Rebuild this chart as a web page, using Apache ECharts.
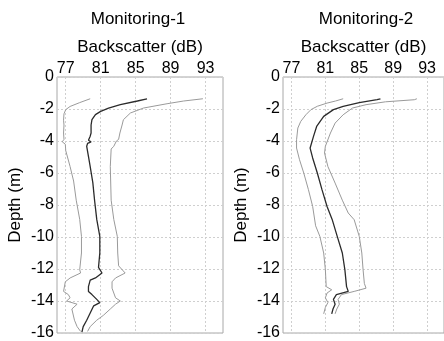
<!DOCTYPE html>
<html>
<head>
<meta charset="utf-8">
<script src="https://cdn.jsdelivr.net/npm/echarts@6/dist/echarts.min.js"></script>
<style>
  html, body { margin: 0; padding: 0; background: #fff; }
  #chart { width: 444px; height: 341px; }
</style>
</head>
<body>
<div id="chart"></div>
<script>
// tick labels
const xTicks = [77, 81, 85, 89, 93];
const panelTitles = ["Monitoring-1", "Monitoring-2"];

// Monitoring-1 : lower envelope, mean, upper envelope (depth m / backscatter dB)
const m1LowDepth = [-1.36, -1.6, -1.84, -2.04, -2.3, -2.7, -3.0, -3.5, -3.9, -4.05, -4.2, -4.6, -5.0, -5.6, -6.5, -7.7, -8.9, -9.96, -11.0, -12.04, -12.25, -12.56, -12.8, -13.4, -13.6, -13.8, -14.0, -14.2, -14.5, -15.2, -15.6, -15.9];
const m1LowDb = [79.8, 78.6, 77.5, 77.0, 76.8, 76.75, 76.8, 76.75, 76.8, 76.6, 76.95, 77.0, 77.2, 77.5, 77.9, 78.2, 78.6, 78.8, 78.8, 78.6, 78.7, 77.5, 76.95, 76.75, 77.3, 77.5, 77.1, 78.3, 77.7, 78.0, 78.3, 78.7];

const m1MeanDepth = [-1.36, -1.5, -1.73, -1.95, -2.15, -2.35, -2.67, -3.0, -3.5, -3.7, -3.95, -4.05, -4.15, -4.33, -4.96, -5.6, -6.6, -7.7, -8.9, -9.96, -11.0, -11.9, -12.25, -12.56, -12.7, -13.1, -13.4, -13.6, -13.9, -14.1, -14.3, -14.75, -15.2, -15.6, -15.95];
const m1MeanDb = [86.3, 85.2, 83.25, 81.9, 81.0, 80.4, 80.0, 79.9, 79.9, 79.8, 79.6, 79.9, 79.5, 79.4, 79.6, 79.8, 80.1, 80.3, 80.55, 80.9, 80.9, 80.75, 81.15, 80.4, 79.8, 79.6, 79.6, 80.0, 80.55, 80.9, 80.2, 79.8, 79.4, 79.0, 78.85];

const m1HighDepth = [-1.36, -1.5, -1.67, -1.94, -2.25, -2.67, -3.0, -3.5, -3.9, -4.0, -4.33, -4.5, -5.6, -7.7, -8.9, -9.96, -11.0, -11.8, -12.25, -12.56, -12.8, -13.2, -13.8, -14.0, -14.2, -14.5, -14.9, -15.2, -15.6, -15.9];
const m1HighDb = [92.7, 90.5, 88.6, 85.9, 84.4, 83.6, 83.45, 83.2, 83.05, 82.8, 82.5, 82.2, 82.1, 82.2, 82.5, 82.9, 82.95, 83.05, 83.8, 82.7, 82.3, 82.3, 82.7, 83.25, 82.7, 82.1, 81.3, 80.55, 79.8, 79.5];

// Monitoring-2
const m2LowDepth = [-1.36, -1.5, -1.63, -1.83, -2.04, -2.36, -2.77, -3.19, -3.92, -4.44, -5.17, -6.0, -7.04, -8.09, -9.3, -9.96, -11.0, -12.04, -13.1, -13.3, -13.5, -13.8, -14.1, -14.4, -14.8];
const m2LowDb = [83.1, 82.2, 81.2, 80.05, 79.3, 78.7, 78.1, 77.75, 77.6, 77.6, 77.95, 78.45, 79.0, 79.5, 79.85, 80.35, 80.8, 81.0, 81.1, 81.75, 81.2, 81.0, 81.3, 81.0, 80.8];

const m2MeanDepth = [-1.36, -1.42, -1.6, -1.83, -2.04, -2.46, -3.09, -3.71, -4.44, -5.06, -6.0, -7.04, -8.09, -8.9, -9.96, -11.0, -12.04, -13.1, -13.4, -13.6, -13.9, -14.2, -14.5, -14.8];
const m2MeanDb = [87.5, 87.1, 85.0, 83.1, 81.95, 80.8, 79.97, 79.6, 79.2, 79.5, 80.05, 80.6, 81.2, 81.8, 82.4, 83.0, 83.3, 83.5, 83.7, 82.3, 81.95, 82.15, 81.9, 81.75];

const m2HighDepth = [-1.36, -1.42, -1.55, -1.73, -1.94, -2.36, -2.88, -3.5, -4.33, -4.75, -5.6, -6.63, -7.7, -8.5, -8.92, -9.96, -11.0, -12.04, -12.9, -13.2, -13.4, -13.6, -13.9, -14.2, -14.5, -14.8];
const m2HighDb = [91.8, 91.5, 88.1, 85.8, 84.2, 83.1, 82.15, 81.6, 81.0, 80.9, 81.3, 82.15, 83.0, 83.7, 84.4, 85.0, 85.3, 85.45, 85.6, 85.8, 84.4, 82.9, 82.5, 82.65, 82.35, 82.15];

const FONT = "Liberation Sans, Arial, sans-serif";
const GRID_LINE = { color: "#cfcfcf", type: [2, 2], width: 1 };

function pairs(db, depth) {
  return db.map((v, i) => [v, depth[i]]);
}

function line(gi, db, depth, dark) {
  return {
    type: "line",
    xAxisIndex: gi,
    yAxisIndex: gi,
    data: pairs(db, depth),
    symbol: "none",
    silent: true,
    lineStyle: dark ? { color: "#2b2b2b", width: 1.3 } : { color: "#9a9a9a", width: 1 }
  };
}

function xAxis(gi) {
  return {
    type: "value",
    gridIndex: gi,
    position: "top",
    min: 76,
    max: 95,
    name: "Backscatter (dB)",
    nameLocation: "middle",
    nameGap: 18,
    nameTextStyle: { fontFamily: FONT, fontSize: 17, color: "#000" },
    axisLine: { show: false },
    axisTick: { show: false, customValues: xTicks },
    axisLabel: { customValues: xTicks, fontFamily: FONT, fontSize: 16, color: "#000", margin: 0 },
    splitLine: { show: true, lineStyle: GRID_LINE }
  };
}

function yAxis(gi) {
  return {
    type: "value",
    gridIndex: gi,
    min: -16,
    max: 0,
    interval: 2,
    name: "Depth (m)",
    nameLocation: "middle",
    nameGap: 33,
    nameTextStyle: { fontFamily: FONT, fontSize: 17, color: "#000" },
    axisLine: { show: false },
    axisTick: { show: false },
    axisLabel: { fontFamily: FONT, fontSize: 16, color: "#000", margin: 3 },
    splitLine: { show: true, lineStyle: GRID_LINE }
  };
}

const titleStyle = { fontFamily: FONT, fontSize: 17, fontWeight: "normal", color: "#000" };

const chart = echarts.init(document.getElementById("chart"), null, { renderer: "canvas" });
chart.setOption({
  animation: false,
  backgroundColor: "#fff",
  title: [
    { text: panelTitles[0], left: 138, top: 11, padding: 0, textAlign: "center", textStyle: titleStyle },
    { text: panelTitles[1], left: 366, top: 11, padding: 0, textAlign: "center", textStyle: titleStyle }
  ],
  grid: [
    { left: 57, top: 77, width: 166, height: 256, show: true, borderColor: "#a8a8a8", borderWidth: 1 },
    { left: 283, top: 77, width: 166, height: 256, show: true, borderColor: "#a8a8a8", borderWidth: 1 }
  ],
  xAxis: [xAxis(0), xAxis(1)],
  yAxis: [yAxis(0), yAxis(1)],
  series: [
    line(0, m1LowDb, m1LowDepth, false),
    line(0, m1HighDb, m1HighDepth, false),
    line(0, m1MeanDb, m1MeanDepth, true),
    line(1, m2LowDb, m2LowDepth, false),
    line(1, m2HighDb, m2HighDepth, false),
    line(1, m2MeanDb, m2MeanDepth, true)
  ]
});
</script>
</body>
</html>
